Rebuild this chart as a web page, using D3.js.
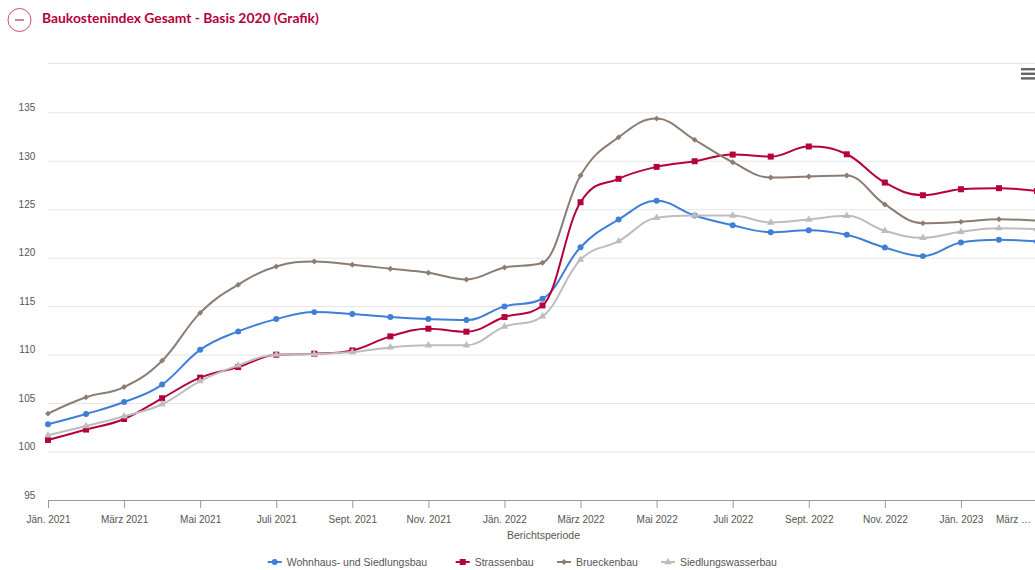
<!DOCTYPE html>
<html><head><meta charset="utf-8">
<script src="https://cdn.jsdelivr.net/npm/d3@7"></script>
<style>
html,body{margin:0;padding:0;background:#fff;overflow:hidden}
svg{display:block}
text{font-family:"Liberation Sans",Arial,sans-serif}
</style></head><body>
<svg id="c" width="1035" height="570"></svg>
<script>
const months=["Jän. 2021","Feb. 2021","März 2021","Apr. 2021","Mai 2021","Juni 2021","Juli 2021","Aug. 2021","Sept. 2021","Okt. 2021","Nov. 2021","Dez. 2021","Jän. 2022","Feb. 2022","März 2022","Apr. 2022","Mai 2022","Juni 2022","Juli 2022","Aug. 2022","Sept. 2022","Okt. 2022","Nov. 2022","Dez. 2022","Jän. 2023","Feb. 2023","März …"];
const wohnhaus=[102.86,103.92,105.15,106.95,110.54,112.44,113.71,114.43,114.23,113.92,113.71,113.61,115.02,115.81,121.13,123.99,125.92,124.40,123.40,122.68,122.89,122.41,121.10,120.21,121.62,121.90,121.72];
const strassen=[101.24,102.31,103.40,105.54,107.67,108.76,110.04,110.14,110.48,111.93,112.72,112.41,113.92,115.12,125.77,128.19,129.42,130.00,130.69,130.48,131.52,130.72,127.80,126.49,127.11,127.22,126.93];
const bruecken=[103.96,105.64,106.70,109.42,114.35,117.26,119.14,119.66,119.32,118.91,118.49,117.80,119.04,119.53,128.53,132.47,134.40,132.21,129.90,128.32,128.42,128.53,125.54,123.61,123.75,124.02,123.86];
const wasser=[101.72,102.68,103.68,104.92,107.32,108.94,110.04,110.10,110.31,110.79,111.00,111.00,112.93,113.99,119.84,121.75,124.16,124.40,124.40,123.68,123.99,124.37,122.82,122.10,122.72,123.09,122.99];
const yTicks=[95,100,105,110,115,120,125,130,135,140];
const seriesNames=["Wohnhaus- und Siedlungsbau","Strassenbau","Brueckenbau","Siedlungswasserbau"];
const seriesColors=["#3f7fd8","#b5003c","#8c7d73","#bdbdbd"];
const seriesValues=[wohnhaus,strassen,bruecken,wasser];
const seriesSymbols=[d3.symbolCircle,d3.symbolSquare,d3.symbolDiamond2,d3.symbolTriangle];
const symbolSizes=[28,36,22,24];
const legendX=[267.7,455.7,557,661];

const svg=d3.select("#c");
const x=d3.scalePoint().domain(months).range([48,1037]);
const y=d3.scaleLinear().domain([95,140]).range([500.4,64.35]);

// Spline as used by the original chart: smoothing 1.5 with slope correction
function spline(context){
  let pts=[];
  return {
    areaStart(){},areaEnd(){},
    lineStart(){pts=[];},
    point(a,b){pts.push([+a,+b]);},
    lineEnd(){
      const s=1.5,d=2.5;
      let rc=null;
      pts.forEach((p,i)=>{
        if(i===0){context.moveTo(p[0],p[1]);rc=p;return;}
        let lx=p[0],ly=p[1],rx=p[0],ry=p[1];
        if(i<pts.length-1){
          const l=pts[i-1],n=pts[i+1];
          lx=(s*p[0]+l[0])/d;ly=(s*p[1]+l[1])/d;
          rx=(s*p[0]+n[0])/d;ry=(s*p[1]+n[1])/d;
          const c=((ry-ly)*(rx-p[0]))/(rx-lx)+p[1]-ry;
          ly+=c;ry+=c;
          if(ly>l[1]&&ly>p[1]){ly=Math.max(l[1],p[1]);ry=2*p[1]-ly;}
          else if(ly<l[1]&&ly<p[1]){ly=Math.min(l[1],p[1]);ry=2*p[1]-ly;}
          if(ry>n[1]&&ry>p[1]){ry=Math.max(n[1],p[1]);ly=2*p[1]-ry;}
          else if(ry<n[1]&&ry<p[1]){ry=Math.min(n[1],p[1]);ly=2*p[1]-ry;}
        }
        context.bezierCurveTo(rc[0],rc[1],lx,ly,p[0],p[1]);
        rc=[rx,ry];
      });
    }
  };
}

// Header
svg.append("circle").attr("cx",19.5).attr("cy",20).attr("r",11.5).attr("fill","none").attr("stroke","#cf4d76").attr("stroke-width",1);
svg.append("line").attr("x1",15).attr("x2",24).attr("y1",20).attr("y2",20).attr("stroke","#b5003c").attr("stroke-width",1);
svg.append("text").attr("x",42).attr("y",23).attr("fill","#b5003c")
  .style("font-family","Lato, 'Open Sans', sans-serif").style("font-weight",700).style("font-size","13.85px")
  .text("Baukostenindex Gesamt - Basis 2020 (Grafik)");

// Grid
svg.append("g").selectAll("line").data(yTicks.filter(t=>t>95)).join("line")
  .attr("x1",48).attr("x2",1035).attr("y1",d=>y(d)-(d===140?1:0)).attr("y2",d=>y(d)-(d===140?1:0))
  .attr("stroke","#e6e6e6").attr("stroke-width",1);

// Y labels
svg.append("g").selectAll("text").data(yTicks.filter(t=>t<140)).join("text")
  .attr("x",35.3).attr("y",d=>y(d)-1.7).attr("text-anchor","end")
  .attr("fill","#555").style("font-size","10px").text(d=>d);

// X axis
const xAxis=d3.axisBottom(x).tickValues(months.filter((m,i)=>i%2===0)).tickSize(8).tickSizeOuter(0).tickPadding(7.5);
const gx=svg.append("g").attr("transform","translate(0,500)").call(xAxis);
gx.select(".domain").attr("stroke","#999").attr("stroke-width",1);
gx.selectAll(".tick line").attr("stroke","#999");
gx.selectAll(".tick text").attr("fill","#555").style("font-size","10px").style("font-family",'"Liberation Sans",Arial,sans-serif');
gx.selectAll(".tick text").filter(d=>d===months[26]).attr("x",-24);

svg.append("text").attr("x",543.5).attr("y",538.5).attr("text-anchor","middle").attr("fill","#555")
  .style("font-size","10.5px").text("Berichtsperiode");

// Series
const line=d3.line().x((d,i)=>x(months[i])).y(d=>y(d)).curve(spline);
seriesValues.forEach((vals,k)=>{
  const g=svg.append("g");
  g.append("path").attr("d",line(vals)).attr("fill","none").attr("stroke",seriesColors[k]).attr("stroke-width",2);
  const sym=d3.symbol().type(seriesSymbols[k]).size(symbolSizes[k]);
  g.selectAll("path.m").data(vals).join("path").attr("class","m")
    .attr("d",sym).attr("fill",seriesColors[k])
    .attr("transform",(d,i)=>`translate(${x(months[i])},${y(d)})`);
});

// Legend
const lg=svg.append("g").selectAll("g").data(seriesNames).join("g")
  .attr("transform",(d,i)=>`translate(${legendX[i]},562)`);
lg.append("line").attr("x1",0).attr("x2",14).attr("stroke",(d,i)=>seriesColors[i]).attr("stroke-width",2);
lg.append("path").attr("transform","translate(7,0)").attr("fill",(d,i)=>seriesColors[i])
  .attr("d",(d,i)=>d3.symbol().type(seriesSymbols[i]).size(symbolSizes[i])());
lg.append("text").attr("x",19).attr("y",4).attr("fill","#555").style("font-size","10.5px").text(d=>d);

// Menu icon
svg.append("g").selectAll("rect").data([0,1,2]).join("rect")
  .attr("x",1021).attr("width",14).attr("height",2.4).attr("y",d=>68+d*4.6).attr("fill","#666");
</script>
</body></html>
